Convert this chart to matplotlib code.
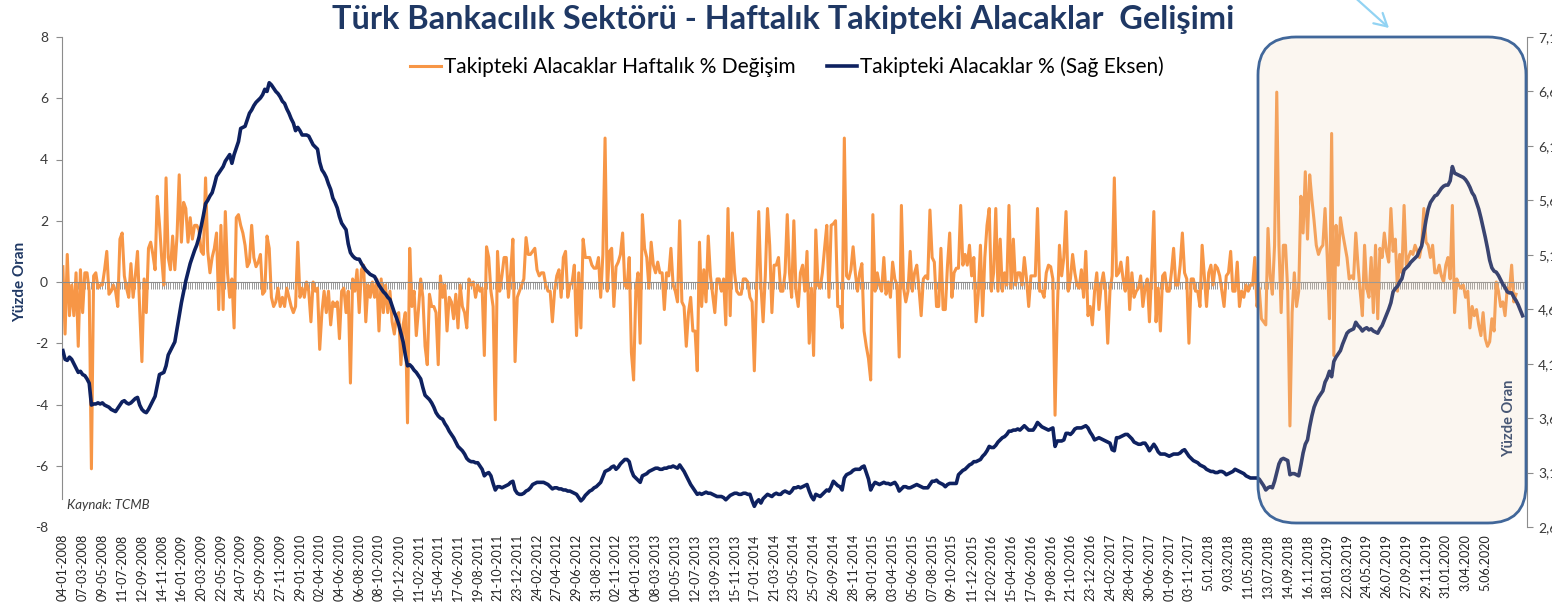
import numpy as np
import matplotlib
matplotlib.use("Agg")
import matplotlib.pyplot as plt
from matplotlib.ticker import MultipleLocator
from matplotlib.patches import FancyBboxPatch, FancyArrowPatch
from matplotlib.transforms import IdentityTransform

plt.rcParams['font.family'] = ['Lato', 'DejaVu Sans']
plt.rcParams['axes.unicode_minus'] = False

# weekly % change of NPLs (left axis), one value per week from 04-01-2008
weekly_change = [
    0.5, -1.7, 0.9, -1.1, -0.1, -1.1, 0.3, -2.1, 0.4, -1.0, 0.3, 0.3, -0.3, -6.1, 0.2, 0.3, -0.2, -0.1, -0.1, 0.4,
    1.0, -0.4, -0.3, -0.1, -0.3, -0.8, 1.4, 1.6, 0.2, -0.2,
    -0.5, 0.6, -0.5, 0.2, 1.0, -0.9, -2.6, 0.1, -1.0, 1.1,
    1.3, 0.9, 0.4, 2.8, 1.9, 0.8, -0.1, 3.4, 0.8, 0.4,
    1.5, 0.4, 1.5, 3.5, 1.3, 2.6, 2.4, 1.3, 2.1, 1.4,
    1.85, 1.85, 1.7, 1.0, 0.9, 3.4, 1.0, 0.3, 0.8, 1.1,
    1.6, -0.9, 1.85, -0.9, 2.3, 0.3, -0.5, 0.1, -1.5, 2.1,
    2.2, 1.85, 1.6, 1.2, 0.5, 0.65, 1.85, 0.8, 0.5, 0.65,
    0.9, -0.4, -0.3, 1.5, 1.1, -0.5, -0.8, -0.65, -0.2, -0.8,
    -0.5, -0.8, -0.2, -0.5, -0.8, -1.0, -0.8, 1.3, -0.5, -0.2,
    -0.5, 0.0,
    -0.3, -1.3, 0.0, -0.3, -0.2, -2.2, -1.0, -0.3, -1.0, -0.3,
    -1.4, -0.65, -0.8, -0.65, -1.85, -0.3, -0.2, -1.0, -0.3, -3.3,
    0.1, -0.3, 0.4, -1.0, 0.4, 0.55, -1.3, -0.1, -0.5, 0.0,
    -0.5, 0.1, -1.6, 0.1, -1.0, -0.1, -1.0, -0.3, -1.3, -1.7,
    -1.1, -1.0, -2.7, -1.4, -1.0, -4.6, 1.1, -0.8, -0.3, -1.75,
    -0.9, 0.1, -0.5, -2.1, -2.7, -0.4, -0.8, -0.8, -1.0, -2.7,
    0.2, -0.5, -0.1, -1.6, -0.5, -0.65, -1.2, -0.4, -1.5, -0.1,
    -0.8, -1.0, -1.5, 0.1, -0.1, 0.0, -0.5, -0.1, -0.3, -0.2,
    -2.4, 1.15, 0.8, -0.3, -0.8, -4.5, 1.0, -0.3, 0.2, 0.8,
    0.8, -0.5, 0.3, 1.4, -2.6, -0.5, -0.3, -0.1, 0.1, 1.45,
    0.9, 0.9, 1.0, 1.1, 0.4, 0.2, 0.3, 0.3, -0.1, -0.3, -0.3,
    -1.3, -0.3, 0.2, 0.4, -0.5, 0.8, 1.0, -0.5, -0.1, 0.0,
    0.55, -1.75, 0.3, -1.5, 1.4, 0.8, 0.8, 0.8, 0.55, 0.45,
    0.45, 0.8, -0.5, 0.9, 4.7, -0.3, 1.0, 1.1, -0.8, 0.5,
    0.65, 0.9, 1.6, -0.1, -0.2, 0.8, -2.3, -3.2, -0.3, 0.3,
    -2.0, 2.2, 1.1, 0.8, -0.2, 1.3, 0.55, 0.3, 0.65, 0.3,
    0.3, -0.9, 0.3, 0.2, 1.1, -0.1, -0.3, -0.65, 2.0, -0.65,
    -0.8, -2.1, -1.0, -0.5, -1.6, -1.6, -2.9, 1.3, -0.8, 0.4,
    -0.65, 1.5, 0.2, -0.4, -1.0, 0.1, 0.1, -0.3, 0.1, -1.4,
    2.4, -1.1, 1.6, 0.3, -0.3, -0.4, -0.4, 0.1, 0.1, 0.0,
    -0.5, -0.65, -2.9, -0.3, 2.3, -0.1, -1.3, 0.2, 2.4, 1.2,
    -1.0, 0.55, 0.55, 0.8, -0.3, -0.3, 0.3, 2.2, 0.3, -0.5, 2.0,
    -0.3, -0.8, 0.3, 0.55, -0.3, 1.0, -2.0, -0.2, -2.4, 1.7,
    -0.1, -0.2, 0.3, 1.1, 1.85, -0.5, 1.85, 1.9, 2.0, -0.8,
    -0.8, -1.5, 4.7, 0.2, 0.1, 0.4, 1.15, 0.3, -0.3, 0.3,
    0.6, -1.6, -2.1, -2.5, -3.2, 2.2, -0.3, 0.3, -0.1, -0.3,
    0.8, -0.4, 0.0, -0.5, 0.65, 0.1, -0.1, -2.45, 2.5, -0.2,
    -0.65, -0.3, 1.0, -0.3, 0.3, 0.55, -0.2, -1.1, 0.1, 0.2,
    0.1, 2.35, 0.8, 0.65, -0.8, -0.8, 1.1, -0.9, -0.9, 0.55,
    1.6, -0.5, 0.3, 0.45, 0.45, 2.5, 0.55, 0.9, 0.55, 1.2,
    0.2, 0.8, -1.3, -0.4, 1.2, -1.1, 0.8, 1.85, 2.4, -0.3,
    0.3, 2.4, -0.3, 1.4, -0.3, 0.3, -0.1, 2.5, -0.2, 1.4,
    -0.1, 0.3, 0.3, -0.1, 0.8, 0.1, -0.8, 0.2, 0.2, 0.2, 2.4, -0.3,
    -0.3, -0.5, 0.3, 0.55, 0.5, 0.1, -4.35, -1.0, 1.2, 0.2,
    0.8, 2.3, -0.3, 0.1, 0.9, 0.3, -0.1, -0.2, 0.4, -0.5,
    1.0, -1.1, -0.8, -1.4, -0.3, 0.3, -0.9, -0.1, 0.3, -0.3,
    -2.0, -0.3, 0.2, 3.4, 0.2, 0.3, 0.65, 0.1, -0.3, 0.8,
    -0.9, 0.3, -0.5, -0.3, -0.2, 0.2, -0.8, -0.2, 0.1, -1.3,
    0.3, 2.3, -1.3, -0.2, -1.6, 0.2, 0.3, -0.3, -0.3, 0.3,
    1.1, -0.1, -0.1, 0.55, 1.6, 0.3, 0.1, -2.0, 0.1, 0.1,
    -0.3, -0.3, -0.8, 1.2, 0.2, -0.8, 0.3, 0.55, -0.1, 0.55,
    0.45, 0.2, -0.3, -0.8, 0.2, 0.3, 1.0, -0.3, -0.3, 0.65,
    -0.8, -0.3, -0.5, -0.1, -0.3, -0.1, -0.1, 0.8, -0.8, -0.2,
    -1.2, -1.3, -1.4, 1.75, 0.2, -0.4, 1.2, 6.2, 1.2, -1.0, 1.2,
    1.2, -0.3, -4.7, -1.0, 0.3, -0.8, -0.3, 2.8, 1.6, 3.6,
    1.4, 3.5, 2.7, 2.0, 1.2, 0.9, 1.1, 1.2, 2.4, 0.8,
    -1.2, 4.85, -2.4, 1.85, 0.55, 2.1, 1.6, 1.2, 0.8, 0.1,
    0.2, 0.1, 1.6, 0.55, -0.3, -1.1, 1.2, -0.2, -0.5, 0.8,
    -1.0, 1.2, -1.2, 1.1, 0.8, 1.6, 1.0, 0.65, 2.4, 1.0,
    1.4, -0.3, 0.9, 0.3, 2.5, 0.55, 0.8, 1.0, 0.9, 1.2,
    1.0, 0.8, 1.2, 2.4, 1.3, 1.2, 0.8, 1.2, 0.3, 0.3,
    0.55, 0.2, 0.0, 0.55, 0.8, 0.1, 2.5, -1.0, 0.1, -0.1,
    -0.2, -0.1, -0.5, -0.3, -1.5, -0.8, -1.1, -0.9, -1.4, -1.75,
    -1.0, -1.85, -2.1, -1.95, -1.2, -1.6, 0.0, -0.3, -0.8, -0.65,
    -1.1, -0.2, -0.3, 0.55, -0.65, -0.4,
]

# NPL ratio % (right axis), weekly from 04-01-2008
npl_ratio = [
    4.22, 4.14, 4.13, 4.16, 4.14, 4.10, 4.06, 4.02, 4.03, 4.00,
    3.99, 3.96, 3.92, 3.72, 3.73, 3.73, 3.74, 3.73, 3.74, 3.72,
    3.71, 3.70, 3.68, 3.67, 3.66, 3.69, 3.72, 3.75, 3.76, 3.74,
    3.73, 3.74, 3.76, 3.78, 3.79, 3.72, 3.68, 3.66, 3.65, 3.68,
    3.72, 3.76, 3.80, 3.90, 4.00, 4.01, 4.02, 4.08, 4.18, 4.22,
    4.26, 4.30, 4.42, 4.54, 4.66, 4.76, 4.86, 4.94, 5.02, 5.08,
    5.14, 5.19, 5.26, 5.36, 5.46, 5.57, 5.60, 5.64, 5.67, 5.74,
    5.82, 5.85, 5.88, 5.91, 5.96, 5.99, 6.02, 5.94, 6.02, 6.08,
    6.14, 6.26, 6.27, 6.28, 6.34, 6.40, 6.43, 6.47, 6.50, 6.52,
    6.54, 6.57, 6.62, 6.60, 6.68, 6.66, 6.63, 6.60, 6.58, 6.55,
    6.51, 6.49, 6.44, 6.40, 6.35, 6.31, 6.24, 6.27, 6.24, 6.20,
    6.20, 6.20,
    6.19, 6.15, 6.11, 6.09, 6.07, 5.95, 5.88, 5.85, 5.81, 5.75,
    5.70, 5.62, 5.58, 5.53, 5.45, 5.39, 5.36, 5.33, 5.20, 5.12,
    5.09, 5.07, 5.06, 5.06, 5.02, 4.99, 4.96, 4.94, 4.92, 4.91,
    4.90, 4.86, 4.82, 4.79, 4.76, 4.74, 4.71, 4.69, 4.63, 4.57,
    4.52, 4.46, 4.38, 4.30, 4.18, 4.08, 4.09, 4.07, 4.04, 4.02,
    3.99, 3.96, 3.88, 3.81, 3.79, 3.77, 3.74, 3.70, 3.65, 3.62,
    3.60, 3.59, 3.55, 3.52, 3.48, 3.45, 3.42, 3.38, 3.34, 3.32,
    3.30, 3.27, 3.23, 3.21, 3.20, 3.20, 3.19, 3.19, 3.16, 3.13,
    3.07, 3.09, 3.10, 3.07, 3.00, 2.94, 2.97, 2.97, 2.96, 2.97,
    2.98, 2.99, 3.01, 3.02, 2.94, 2.91, 2.90, 2.90, 2.91, 2.93,
    2.94, 2.96, 2.99, 3.00, 3.01, 3.01, 3.01, 3.01, 3.00, 2.99,
    2.97, 2.95,
    2.96, 2.96, 2.95, 2.95, 2.94, 2.94, 2.93, 2.93, 2.92, 2.91,
    2.90, 2.87, 2.84, 2.86, 2.89, 2.91, 2.93, 2.94, 2.96, 2.97,
    2.99, 3.01, 3.06, 3.11, 3.12, 3.13, 3.15, 3.16, 3.13, 3.15,
    3.18, 3.20, 3.22, 3.22, 3.20, 3.12, 3.07, 3.05, 3.03, 3.01,
    3.07, 3.08, 3.09, 3.11, 3.12, 3.13, 3.14, 3.14, 3.13, 3.13,
    3.14, 3.14, 3.15, 3.15, 3.16, 3.15, 3.14, 3.17, 3.14, 3.11,
    3.07, 3.03, 2.99, 2.96, 2.93, 2.90, 2.91, 2.90, 2.91, 2.92,
    2.91, 2.91, 2.90, 2.89, 2.88, 2.88, 2.88, 2.87, 2.85, 2.87,
    2.89, 2.90, 2.91, 2.91, 2.90, 2.90, 2.91, 2.91, 2.90, 2.90,
    2.84, 2.79, 2.83, 2.85, 2.82, 2.86, 2.88, 2.90, 2.89, 2.88,
    2.90, 2.91, 2.90, 2.90, 2.92, 2.93, 2.92, 2.91, 2.93, 2.96,
    2.96, 2.97, 2.96, 2.97, 2.98, 2.99, 2.93, 2.88, 2.85, 2.90,
    2.89, 2.88, 2.90, 2.92, 2.94, 2.93, 2.97, 3.02, 3.00, 2.98,
    2.97, 2.94, 3.05, 3.08, 3.09, 3.10, 3.12, 3.13, 3.13, 3.13,
    3.15, 3.16, 3.10, 3.04, 2.94, 2.98, 3.01, 3.00, 2.99, 3.00,
    3.01, 3.00, 3.00, 2.99, 3.00, 3.01, 2.98, 2.93, 2.95, 2.97,
    2.97, 2.96, 2.96, 2.97, 2.98, 2.99, 2.98, 2.97, 2.96, 2.96,
    2.96, 2.99, 3.02, 3.02, 3.03, 3.01, 3.00, 2.99, 2.97, 2.99,
    3.00, 3.00, 3.00, 3.00, 3.08, 3.10, 3.12, 3.13, 3.15, 3.17,
    3.18, 3.20, 3.20, 3.21, 3.22, 3.25, 3.27, 3.30, 3.34, 3.33,
    3.33, 3.35, 3.38, 3.40, 3.42, 3.43, 3.45, 3.48, 3.48, 3.49,
    3.49, 3.50, 3.49, 3.51, 3.53, 3.51, 3.49, 3.49, 3.49, 3.52,
    3.56, 3.54,
    3.52, 3.51, 3.50, 3.49, 3.50, 3.51, 3.34, 3.39, 3.39, 3.39,
    3.40, 3.46, 3.46, 3.45, 3.47, 3.50, 3.51, 3.51, 3.51, 3.52,
    3.53, 3.51, 3.47, 3.44, 3.40, 3.41, 3.42, 3.41, 3.40, 3.39,
    3.38, 3.37, 3.31, 3.30, 3.42, 3.42, 3.43, 3.44, 3.45, 3.45,
    3.43, 3.41, 3.38, 3.37, 3.36, 3.36, 3.37, 3.37, 3.34, 3.30,
    3.33, 3.36, 3.33, 3.29, 3.27, 3.27, 3.27, 3.26, 3.25, 3.26,
    3.27, 3.27, 3.27, 3.28, 3.30, 3.31, 3.28, 3.25, 3.23, 3.21,
    3.20, 3.19, 3.17, 3.16, 3.15, 3.13, 3.12, 3.11, 3.11, 3.10,
    3.10, 3.11, 3.11, 3.10, 3.08, 3.09, 3.10, 3.11, 3.13, 3.12,
    3.11, 3.10, 3.09, 3.07, 3.06, 3.05, 3.05, 3.05, 3.05, 3.04,
    3.01, 2.98, 2.94, 2.96, 2.97, 2.96, 3.02, 3.10, 3.18, 3.22,
    3.23,
    3.22, 3.21, 3.08, 3.09, 3.09, 3.08, 3.07, 3.17, 3.28, 3.36,
    3.40, 3.52, 3.62, 3.70, 3.75, 3.79, 3.82, 3.85, 3.93, 3.97,
    4.03, 3.98, 4.12, 4.16, 4.19, 4.22, 4.28, 4.33, 4.38, 4.40,
    4.41, 4.42, 4.48, 4.45, 4.43, 4.40, 4.42, 4.43, 4.41, 4.42,
    4.40, 4.39, 4.38, 4.42, 4.45, 4.50, 4.55, 4.60, 4.66, 4.76,
    4.79, 4.81, 4.85, 4.88, 4.96, 4.98, 5.00, 5.03, 5.05, 5.07,
    5.09, 5.14, 5.18, 5.30, 5.42, 5.52, 5.58, 5.61, 5.64, 5.65,
    5.68, 5.71, 5.73, 5.74, 5.74, 5.78, 5.91, 5.85, 5.84, 5.83,
    5.82, 5.81, 5.79, 5.76, 5.72, 5.67, 5.64, 5.58, 5.52, 5.44,
    5.35, 5.26, 5.16, 5.05, 4.98, 4.95, 4.94, 4.91, 4.87, 4.83,
    4.80, 4.76, 4.75, 4.75, 4.71, 4.68, 4.64, 4.59, 4.54,
]

# category labels, every 9th week
date_labels = [
    "04-01-2008", "07-03-2008", "09-05-2008", "11-07-2008", "12-09-2008", "14-11-2008",
    "16-01-2009", "20-03-2009", "22-05-2009", "24-07-2009", "25-09-2009", "27-11-2009",
    "29-01-2010", "02-04-2010", "04-06-2010", "06-08-2010", "08-10-2010", "10-12-2010",
    "11-02-2011", "15-04-2011", "17-06-2011", "19-08-2011", "21-10-2011", "23-12-2011",
    "24-02-2012", "27-04-2012", "29-06-2012", "31-08-2012", "02-11-2012", "04-01-2013",
    "08-03-2013", "10-05-2013", "12-07-2013", "13-09-2013", "15-11-2013", "17-01-2014",
    "21-03-2014", "23-05-2014", "25-07-2014", "26-09-2014", "28-11-2014", "30-01-2015",
    "03-04-2015", "05-06-2015", "07-08-2015", "09-10-2015", "11-12-2015", "12-02-2016",
    "15-04-2016", "17-06-2016", "19-08-2016", "21-10-2016", "23-12-2016", "24-02-2017",
    "28-04-2017", "30-06-2017", "01-09-2017", "03-11-2017", "5.01.2018", "9.03.2018",
    "11.05.2018", "13.07.2018", "14.09.2018", "16.11.2018", "18.01.2019", "22.03.2019",
    "24.05.2019", "26.07.2019", "27.09.2019", "29.11.2019", "31.01.2020", "3.04.2020",
    "5.06.2020",
]

navy = '#0E2160'
orange = '#F79646'
title_blue = '#1F3864'
grey = '#8C8C8C'
txt = '#3A3A3A'

fig = plt.figure(figsize=(15.52, 6.05), dpi=100)
ax = fig.add_axes([62/1552, 1-527/605, 1465/1552, 490/605])
ax2 = ax.twinx()

x1 = np.arange(len(weekly_change))
x2 = np.arange(len(npl_ratio))
l1, = ax.plot(x1, weekly_change, color=orange, lw=2.2, solid_joinstyle='round')
l2, = ax2.plot(x2, npl_ratio, color=navy, lw=2.6, solid_joinstyle='round')

ax.set_xlim(-0.4, 667)
ax.set_ylim(-8, 8)
ax2.set_ylim(2.6, 7.1)

# left axis
ax.set_yticks(np.arange(-8, 9, 2))
ax.tick_params(axis='y', direction='out', length=4, color=grey, labelsize=10, labelcolor=txt, pad=6)
ax.spines['left'].set_color(grey)
ax.spines['left'].set_bounds(-7.1, 8)
ax.yaxis.get_major_ticks()[0].tick1line.set_visible(False)
ax.spines['top'].set_visible(False)
ax.spines['right'].set_visible(False)

# category axis crossing at zero, one tick per week
ax.spines['bottom'].set_position(('data', 0))
ax.spines['bottom'].set_color(grey)
ax.set_xticks([])
ax.xaxis.set_minor_locator(MultipleLocator(1))
ax.tick_params(axis='x', which='minor', direction='out', length=5, width=0.7, color='#9A9A9A')
ax.set_axisbelow(True)

sec = ax.secondary_xaxis(0)
sec.set_xticks(np.arange(0, 9*len(date_labels), 9), date_labels, rotation=90)
sec.tick_params(length=0, labelsize=9, labelcolor='#222222', pad=5)
sec.spines['bottom'].set_visible(False)

# right axis
rt = np.arange(2.6, 7.15, 0.5)
ax2.set_yticks(rt, [f"{v:.1f}".replace('.', ',') for v in rt])
ax2.tick_params(axis='y', direction='out', length=4, color=grey, labelsize=10, labelcolor=txt, pad=4)
for s in ['top', 'bottom', 'left']:
    ax2.spines[s].set_visible(False)
ax2.spines['right'].set_color(grey)

fig.text(783/1552, 1-20/605, "Türk Bankacılık Sektörü - Haftalık Takipteki Alacaklar  Gelişimi",
         ha='center', va='center', fontsize=23.4, fontweight='bold', color=title_blue)

fig.legend([l1, l2], ["Takipteki Alacaklar Haftalık % Değişim", "Takipteki Alacaklar % (Sağ Eksen)"],
           loc='center', bbox_to_anchor=(787/1552, 1-67/605), ncol=2, frameon=False,
           fontsize=15, handlelength=1.45, handletextpad=0.15, columnspacing=1.5)

fig.text(20/1552, 1-282/605, "Yüzde Oran", rotation=90, ha='center', va='center',
         fontsize=11, fontweight='bold', color=title_blue)
ax.text(0.988, 0.222, "Yüzde Oran", transform=ax.transAxes, rotation=90, ha='center', va='center',
        fontsize=10.5, fontweight='bold', color=title_blue)
fig.text(67/1552, 1-505/605, "Kaynak: TCMB", style='italic', fontsize=9.5, color=txt, va='center')

# highlight box over the last period
box = FancyBboxPatch((1258, 605-523), 1526-1258, 523-37,
                     boxstyle="round,pad=0,rounding_size=38",
                     transform=IdentityTransform(), facecolor='#EBD3B5', alpha=0.2,
                     edgecolor='none', zorder=5)
fig.add_artist(box)
edge = FancyBboxPatch((1258, 605-523), 1526-1258, 523-37,
                      boxstyle="round,pad=0,rounding_size=38",
                      transform=IdentityTransform(), facecolor='none',
                      edgecolor='#41679A', lw=2.0, zorder=6)
fig.add_artist(edge)

arrow = FancyArrowPatch((1350, 612), (1389, 577), transform=IdentityTransform(),
                        arrowstyle='->,head_length=9,head_width=5', color='#92D3F3', lw=1.6,
                        zorder=6, shrinkA=0, shrinkB=0)
fig.add_artist(arrow)

fig.savefig("out.png", dpi=100)
